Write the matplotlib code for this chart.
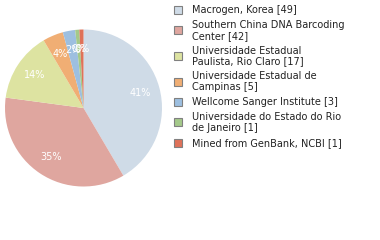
import matplotlib
matplotlib.use("Agg")
import matplotlib.pyplot as plt
from matplotlib.patches import Rectangle
import math

labels = [
    "Macrogen, Korea [49]",
    "Southern China DNA Barcoding\nCenter [42]",
    "Universidade Estadual\nPaulista, Rio Claro [17]",
    "Universidade Estadual de\nCampinas [5]",
    "Wellcome Sanger Institute [3]",
    "Universidade do Estado do Rio\nde Janeiro [1]",
    "Mined from GenBank, NCBI [1]",
]
values = [49, 42, 17, 5, 3, 1, 1]
colors = ["#cfdbe7", "#dfa69f", "#dde3a1", "#f0ae74", "#9dbfe0", "#a4c98a", "#df7259"]

W, H = 380, 240
fig = plt.figure(figsize=(W / 100, H / 100), dpi=100)
plt.rcParams['font.family'] = ['DejaVu Sans']

cx, cy, R = 83.5, 108, 78.5
ax = fig.add_axes([(cx - R) / W, (H - cy - R) / H, 2 * R / W, 2 * R / H])
total = sum(values)

def pct(p):
    return "%d%%" % math.floor(p + 1e-9)

wedges, texts, autotexts = ax.pie(
    values, colors=colors, startangle=90, counterclock=False,
    autopct=pct, pctdistance=0.75,
    wedgeprops=dict(linewidth=0),
    textprops=dict(color="white", fontsize=7),
)
ax.set_xlim(-1, 1)
ax.set_ylim(-1, 1)
ax.set_aspect("equal")
ax.axis("off")

# legend
line_h = 10.7
gap = 15
y = 10
fs = 7
for lab, col in zip(labels, colors):
    lines = lab.split("\n")
    ys = [y + i * line_h for i in range(len(lines))]
    center = (ys[0] + ys[-1]) / 2
    sq = 8
    fig.patches.append(Rectangle(((174) / W, (H - center - sq / 2) / H), sq / W, sq / H,
                                 transform=fig.transFigure, facecolor=col,
                                 edgecolor="#808080", linewidth=0.8))
    for ln, yy in zip(lines, ys):
        fig.text(192 / W, (H - yy) / H, ln, fontsize=fs, color="#222222",
                 va="center", ha="left")
    y = ys[-1] + gap

fig.savefig("out.png", dpi=100)
